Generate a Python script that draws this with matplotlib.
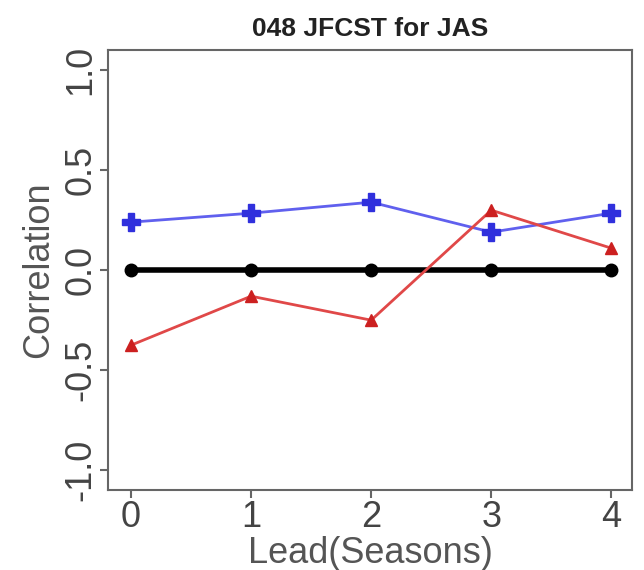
import matplotlib
matplotlib.use("Agg")
import matplotlib.pyplot as plt

leads = [0, 1, 2, 3, 4]
blue_corr = [0.24, 0.285, 0.34, 0.19, 0.285]
red_corr = [-0.375, -0.13, -0.25, 0.30, 0.11]
black_corr = [0.0, 0.0, 0.0, 0.0, 0.0]
yticks = [-1.0, -0.5, 0.0, 0.5, 1.0]

plt.rcParams['font.family'] = ['Liberation Sans', 'DejaVu Sans']

fig = plt.figure(figsize=(6.44, 5.70), dpi=100)
ax = fig.add_axes([0.168, 0.14, 0.813, 0.772])

ax.plot(leads, black_corr, color="black", lw=4, marker="o", ms=9)
ax.plot(leads, blue_corr, color="#6060ee", lw=2, marker="P", ms=13, mfc="#3030dd", mec="#3030dd")
ax.plot(leads, red_corr, color="#e04848", lw=2, marker="^", ms=9, mfc="#cc2020", mec="#cc2020")

ax.set_xlim(-0.19, 4.17)
ax.set_ylim(-1.1, 1.1)
ax.set_xticks(leads)
ax.set_yticks(yticks)
ax.set_yticklabels(["-1.0", "-0.5", "0.0", "0.5", "1.0"], rotation=90, va="center")
ax.tick_params(labelsize=26, colors="#666666", length=6, width=1.5, labelcolor="#444444", pad=1)
for s in ax.spines.values():
    s.set_color("#666666")
    s.set_linewidth(1.5)

ax.set_xlabel("Lead(Seasons)", fontsize=26, color="#555555", labelpad=1)
ax.set_ylabel("Correlation", fontsize=26, color="#555555", labelpad=5)
ax.set_title("048 JFCST for JAS", fontsize=19, fontweight="bold", color="#222222", pad=10)

fig.savefig("out.png", dpi=100)
